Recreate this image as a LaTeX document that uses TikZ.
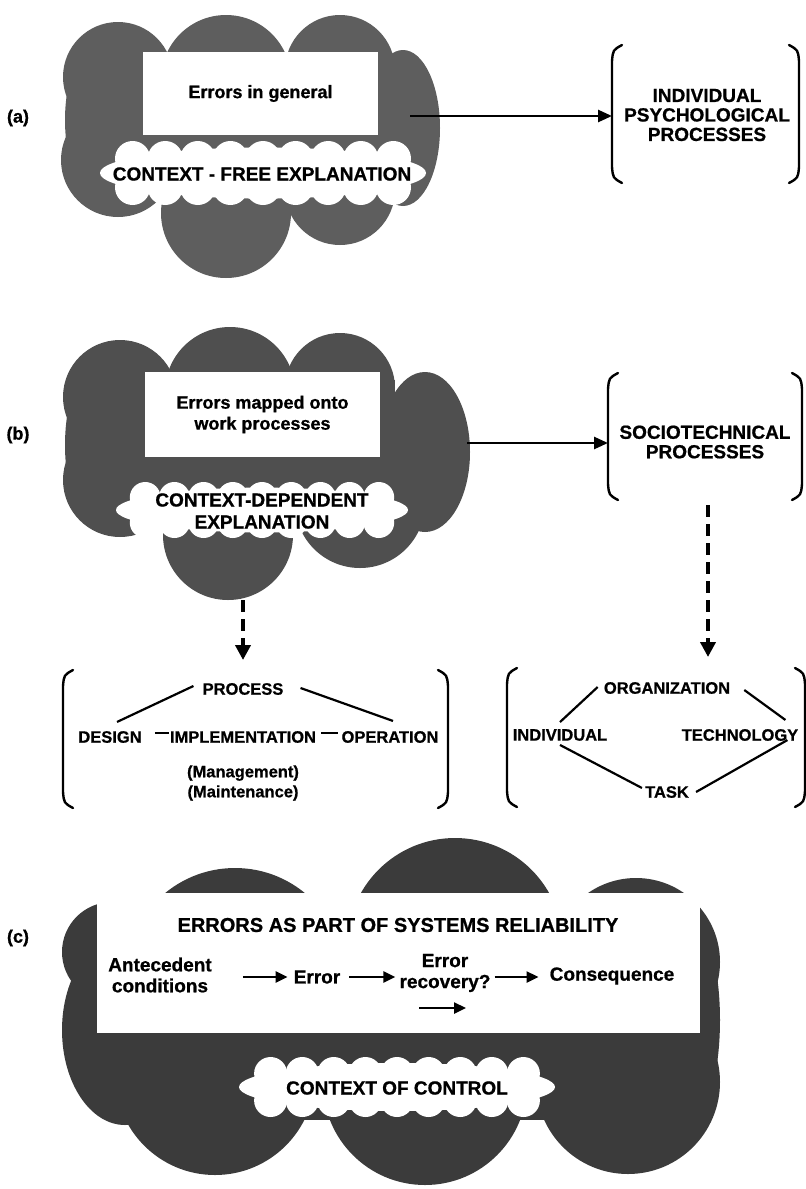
\documentclass[tikz,border=0pt]{standalone}
\usepackage{fontspec}
\setmainfont{Liberation Sans}[BoldFeatures={FakeBold=0.8}]
\usetikzlibrary{arrows.meta}

\definecolor{cloudA}{gray}{0.37}
\definecolor{cloudB}{gray}{0.31}
\definecolor{cloudC}{gray}{0.23}

% white scalloped label: centre x, centre y, half width, half height
\newcommand\whiteblob[4]{%
  \fill[white] (#1,#2) ellipse [x radius=#3, y radius=#4*0.8];
  \foreach \t in {-0.8,-0.6,-0.4,-0.2,0,0.2,0.4,0.6,0.8} {
    \fill[white] (#1+\t*#3, #2-#4*0.45) circle [radius=#4*0.55];
    \fill[white] (#1+\t*#3, #2+#4*0.45) circle [radius=#4*0.55];
  }%
}

% a pair of curly-ended brackets around a frame node
\newcommand\drawbrackets[1]{%
  \draw[brk] ([shift={(10,0)}]#1.north west) .. controls ([shift={(1,5)}]#1.north west) .. ([shift={(0,16)}]#1.north west)
     -- ([shift={(0,-16)}]#1.south west) .. controls ([shift={(1,-5)}]#1.south west) .. ([shift={(10,0)}]#1.south west);
  \draw[brk] ([shift={(-10,0)}]#1.north east) .. controls ([shift={(-1,5)}]#1.north east) .. ([shift={(0,16)}]#1.north east)
     -- ([shift={(0,-16)}]#1.south east) .. controls ([shift={(-1,-5)}]#1.south east) .. ([shift={(-10,0)}]#1.south east);
}

\begin{document}
\begin{tikzpicture}[x=1pt,y=-1pt,
  tag/.style={font=\bfseries\fontsize{18}{20}\selectfont, inner sep=1pt},
  boxtext/.style={fill=white, inner sep=0pt, outer sep=0pt, align=center, font=\bfseries\fontsize{18}{21}\selectfont},
  blobtext/.style={inner sep=1pt, align=center, font=\bfseries\fontsize{19}{22}\selectfont},
  brtext/.style={inner sep=1pt, align=center, font=\bfseries\fontsize{19}{19.5}\selectfont},
  item/.style={inner sep=1pt, align=center, font=\bfseries\fontsize{16.5}{20}\selectfont},
  flow/.style={inner sep=1pt, align=center, font=\bfseries\fontsize{19}{21}\selectfont},
  brframe/.style={inner sep=0pt, outer sep=0pt},
  arr/.style={line width=2.6pt, -{Triangle[length=14pt,width=12pt]}},
  sarr/.style={line width=2.4pt, -{Triangle[length=12pt,width=11pt]}},
  darr/.style={line width=3.8pt, dash pattern=on 12pt off 7pt, -{Triangle[length=15pt,width=15pt]}},
  link/.style={line width=2.2pt},
  brk/.style={line width=2.4pt, line cap=round, line join=round},
]
\useasboundingbox (0,0) rectangle (806,1189);

% ---------- cloud (a) ----------
\begin{scope}[fill=cloudA]
  \fill (118,77) circle [radius=55];
  \fill (226,80) circle [radius=65];
  \fill (340,70) circle [radius=55];
  \fill (403,128) ellipse [x radius=37, y radius=78];
  \fill (100,120) ellipse [x radius=35, y radius=80];
  \fill (118,160) circle [radius=57];
  \fill (226,213) circle [radius=65];
  \fill (340,190) circle [radius=55];
  \fill (110,60) rectangle (390,200);
\end{scope}

% ---------- cloud (b) ----------
\begin{scope}[fill=cloudB]
  \fill (120,397) circle [radius=57];
  \fill (230,392) circle [radius=65];
  \fill (340,388) circle [radius=55];
  \fill (425,452) ellipse [x radius=45, y radius=80];
  \fill (100,445) ellipse [x radius=35, y radius=85];
  \fill (120,480) circle [radius=57];
  \fill (228,535) circle [radius=65];
  \fill (360,503) circle [radius=65];
  \fill (115,380) rectangle (395,520);
\end{scope}

% ---------- cloud (c) ----------
\begin{scope}[fill=cloudC]
  \fill (455,946) circle [radius=108];
  \fill (235,978) circle [radius=110];
  \fill (112,952) circle [radius=50];
  \fill (636,962) circle [radius=84];
  \fill (628,1082) circle [radius=92];
  \fill (425,1083) circle [radius=102];
  \fill (215,1075) circle [radius=100];
  \fill (125,1030) ellipse [x radius=63, y radius=95];
  \fill (690,1020) ellipse [x radius=30, y radius=100];
  \fill (120,930) rectangle (700,1120);
\end{scope}

% ---------- panel tags ----------
\node[tag] (ta) at (18,118) {(a)};
\node[tag] (tb) at (18,435) {(b)};
\node[tag] (tc) at (18,938) {(c)};

% ---------- panel (a) ----------
\node[boxtext, minimum width=235pt, minimum height=83pt] (boxa) at (260.5,93.5) {Errors in general};
\whiteblob{263}{173}{163}{32}
\node[blobtext] (ctxa) at (262,174) {CONTEXT - FREE EXPLANATION};

\node[brframe, minimum width=187pt, minimum height=138pt] (fa) at (705.5,114) {};
\drawbrackets{fa}
\node[brtext] (psych) at (707,115) {INDIVIDUAL\\PSYCHOLOGICAL\\PROCESSES};

\coordinate (aout) at (410,116);
\draw[arr] (aout) -- (aout -| fa.west);

% ---------- panel (b) ----------
\node[boxtext, minimum width=235pt, minimum height=85pt] (boxb) at (262.5,414.5) {Errors mapped onto\\work processes};
\whiteblob{262}{510}{146}{28}
\node[blobtext] (ctxb) at (262,511) {CONTEXT-DEPENDENT\\EXPLANATION};

\node[brframe, minimum width=194pt, minimum height=127pt] (fb) at (705,436.5) {};
\drawbrackets{fb}
\node[brtext] (socio) at (705,442) {SOCIOTECHNICAL\\PROCESSES};

\coordinate (bout) at (467,443);
\draw[arr] (bout) -- (bout -| fb.west);

% process bracket
\node[brframe, minimum width=385pt, minimum height=138pt] (fp) at (255.5,739) {};
\drawbrackets{fp}
\node[item] (proc) at (243,689) {PROCESS};
\node[item] (des) at (110,737) {DESIGN};
\node[item] (imp) at (243,737) {IMPLEMENTATION};
\node[item] (op) at (390,737) {OPERATION};
\node[item] (mm) at (243,783) {(Management)\\(Maintenance)};
\draw[link] ([shift={(-8,-3)}]proc.west) -- ([shift={(7,-8)}]des.north);
\draw[link] ([shift={(16,-1)}]proc.east) -- ([shift={(3,-9)}]op.north);
\draw[link] ([shift={(12,-4)}]des.east) -- ([shift={(0,-4)}]imp.west);
\draw[link] ([shift={(4,-4)}]imp.east) -- ([shift={(-2,-4)}]op.west);

% sociotechnical bracket
\node[brframe, minimum width=298pt, minimum height=139pt] (fo) at (656,737.5) {};
\drawbrackets{fo}
\node[item] (org) at (667,688) {ORGANIZATION};
\node[item] (ind) at (560,735) {INDIVIDUAL};
\node[item] (tech) at (740,735) {TECHNOLOGY};
\node[item] (task) at (667,792) {TASK};
\draw[link] ([shift={(-5,-1)}]org.west) -- ([shift={(0,-6)}]ind.north);
\draw[link] ([shift={(13,2)}]org.east) -- ([shift={(-14,-8)}]tech.north east);
\draw[link] ([shift={(0,3)}]ind.south) -- ([shift={(-2,-4)}]task.west);
\draw[link] ([shift={(6,0)}]task.east) -- ([shift={(-12,-2)}]tech.south east);

% dashed arrows
\coordinate (bbot) at (243,600);
\draw[darr, shorten >=10pt] (bbot) -- (bbot |- fp.north);
\coordinate (stop) at (708,505);
\draw[darr, shorten >=11pt] (stop) -- (stop |- fo.north);

% ---------- panel (c) ----------
\node[fill=white, minimum width=603pt, minimum height=140pt, inner sep=0pt, outer sep=0pt] (boxc) at (398.5,963) {};
\node[flow, font=\bfseries\fontsize{20}{22}\selectfont] (title) at (398,925) {ERRORS AS PART OF SYSTEMS RELIABILITY};
\node[flow] (ant) at (160,975) {Antecedent\\conditions};
\node[flow] (err) at (317,977) {Error};
\node[flow] (rec) at (445,973) {Error\\recovery?};
\node[flow] (con) at (612,976) {Consequence};
\draw[sarr, shorten <=30pt, shorten >=5pt] (ant.east |- err.west) -- (err.west);
\draw[sarr, shorten <=8pt, shorten >=3pt] (err.east) -- (err.east -| rec.west);
\draw[sarr, shorten <=3pt, shorten >=10pt] (err.east -| rec.east) -- (err.east -| con.west);
\coordinate (lowL) at (419,1008);
\coordinate (lowR) at (466,1008);
\draw[sarr] (lowL) -- (lowR);

\whiteblob{397}{1087}{158}{30}
\node[blobtext] (ctxc) at (397,1088) {CONTEXT OF CONTROL};
\end{tikzpicture}
\end{document}
